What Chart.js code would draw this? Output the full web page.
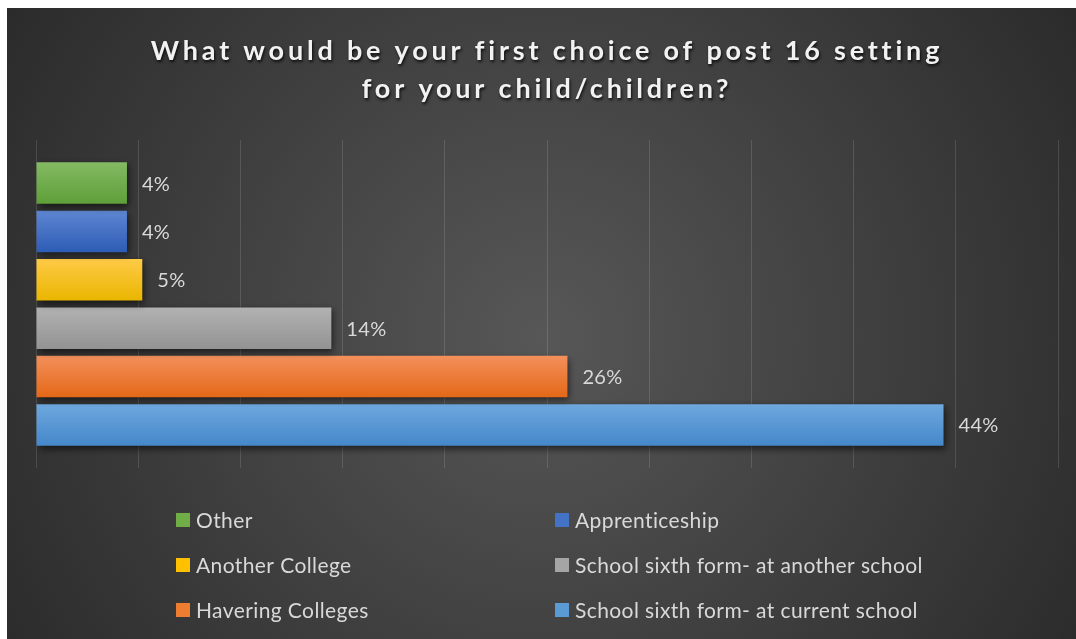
<!DOCTYPE html>
<html>
<head>
<meta charset="utf-8">
<script src="https://cdn.jsdelivr.net/npm/chart.js@4.4.1/dist/chart.umd.min.js"></script>
<style>
  html, body { margin: 0; padding: 0; background: #fff; }
  #wrap { position: absolute; left: 7px; top: 8px; width: 1069px; height: 631px; }
</style>
</head>
<body>
<div id="wrap"><canvas id="chart"></canvas></div>
<script>
// data (percent of respondents)
const choices = ['Other', 'Apprenticeship', 'Another College', 'School sixth form- at another school', 'Havering Colleges', 'School sixth form- at current school']
const shares = [4.45, 4.45, 5.2, 14.45, 26, 44.4]
const titleLines = ['What would be your first choice of post 16 setting', 'for your child/children?']

// bar colours: top and bottom of the gradient, flat colour for the legend
const barTop = ['#84ba63', '#5e86d2', '#ffca47', '#b2b2b2', '#f3905c', '#6ea8de']
const barBottom = ['#5e9f39', '#2d5cb6', '#e9b600', '#939393', '#e46817', '#4587ca']
const swatch = ['#70ad47', '#4472c4', '#ffc000', '#a5a5a5', '#ed7d31', '#5b9bd5']

const FONT = 'Lato, Calibri, "Noto Sans", sans-serif'
const TEXT = '#d9d9d9'

// dark radial background
const backdrop = {
  id: 'backdrop',
  beforeDraw(chart) {
    const { ctx, width, height } = chart
    const cx = width * 0.5, cy = height * 0.52
    const g = ctx.createRadialGradient(cx, cy, 0, cx, cy, width * 0.6)
    g.addColorStop(0, '#575757')
    g.addColorStop(1, '#2a2a2a')
    ctx.save()
    ctx.fillStyle = g
    ctx.fillRect(0, 0, width, height)
    ctx.restore()
  }
}

// title with letter spacing and shadow
const titleText = {
  id: 'titleText',
  afterDraw(chart) {
    const ctx = chart.ctx
    ctx.save()
    ctx.font = 'bold 27px ' + FONT
    ctx.letterSpacing = '3.8px'
    ctx.textAlign = 'center'
    ctx.textBaseline = 'middle'
    ctx.fillStyle = '#f2f2f2'
    ctx.shadowColor = 'rgba(0,0,0,0.8)'
    ctx.shadowBlur = 3
    ctx.shadowOffsetX = 1
    ctx.shadowOffsetY = 2
    titleLines.forEach((line, i) => ctx.fillText(line, 540, 43 + i * 38))
    ctx.restore()
  }
}

// gradient fill and drop shadow for each bar
const barStyle = {
  id: 'barStyle',
  beforeDatasetDraw(chart, args) {
    const i = args.index
    const el = chart.getDatasetMeta(i).data[0]
    const top = el.y - el.height / 2
    const g = chart.ctx.createLinearGradient(0, top, 0, top + el.height)
    g.addColorStop(0, barTop[i])
    g.addColorStop(1, barBottom[i])
    el.options.backgroundColor = g
    chart.ctx.save()
    chart.ctx.shadowColor = 'rgba(0,0,0,0.6)'
    chart.ctx.shadowBlur = 7
    chart.ctx.shadowOffsetX = 2
    chart.ctx.shadowOffsetY = 3
  },
  afterDatasetDraw(chart) {
    chart.ctx.restore()
  }
}

// value labels right of the bars
const valueLabels = {
  id: 'valueLabels',
  afterDatasetsDraw(chart) {
    const ctx = chart.ctx
    ctx.save()
    ctx.font = '20px ' + FONT
    ctx.letterSpacing = '0.3px'
    ctx.fillStyle = TEXT
    ctx.textBaseline = 'middle'
    chart.data.datasets.forEach((ds, i) => {
      const el = chart.getDatasetMeta(i).data[0]
      ctx.fillText(Math.round(ds.data[0]) + '%', el.x + 15, el.y + 1)
    })
    ctx.restore()
  }
}

// two-column legend under the plot
const gridLegend = {
  id: 'gridLegend',
  afterDraw(chart) {
    const ctx = chart.ctx
    ctx.save()
    ctx.font = '21px ' + FONT
    ctx.letterSpacing = '0.4px'
    ctx.textBaseline = 'middle'
    chart.data.datasets.forEach((ds, i) => {
      const col = i % 2, row = Math.floor(i / 2)
      const x = col ? 548 : 169
      const y = 512 + row * 45
      ctx.fillStyle = swatch[i]
      ctx.fillRect(x, y - 7, 14, 14)
      ctx.fillStyle = TEXT
      ctx.fillText(ds.label, x + 20, y + 1)
    })
    ctx.restore()
  }
}

const chart = document.querySelector('#chart').getContext('2d')

new Chart(chart, {
  type: 'bar',
  data: {
    labels: [''],
    datasets: choices.map((name, i) => ({
      label: name,
      data: [shares[i]],
      backgroundColor: () => swatch[i],
      borderWidth: 0,
      categoryPercentage: 0.885,
      barPercentage: 0.86
    }))
  },
  options: {
    indexAxis: 'y',
    responsive: true,
    maintainAspectRatio: false,
    animation: false,
    layout: { padding: { left: 29, right: 18, top: 132, bottom: 171 } },
    scales: {
      x: {
        min: 0,
        max: 50,
        ticks: { display: false, stepSize: 5 },
        border: { display: false },
        grid: { color: 'rgba(255,255,255,0.13)', lineWidth: 1, drawTicks: false }
      },
      y: { display: false }
    },
    plugins: {
      legend: { display: false },
      title: { display: false },
      tooltip: { enabled: false }
    }
  },
  plugins: [backdrop, barStyle, valueLabels, gridLegend, titleText]
})
</script>
</body>
</html>
